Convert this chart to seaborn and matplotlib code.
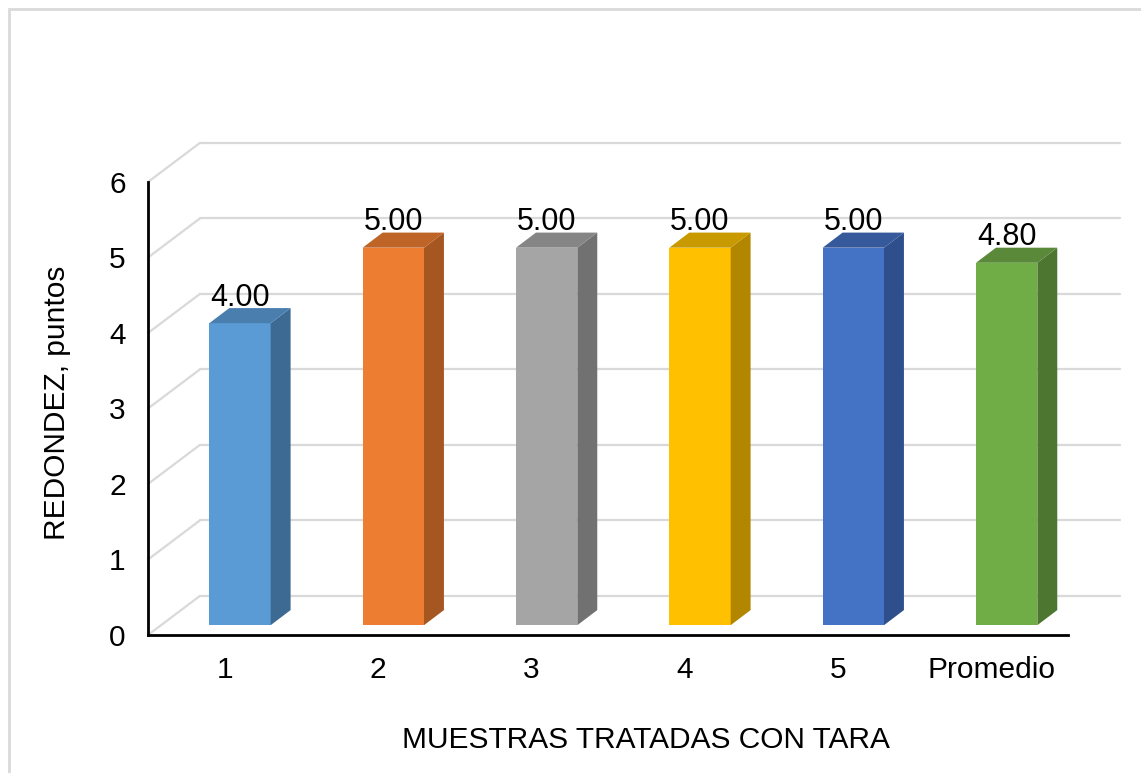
"""
Gráfico de barras estilo 3D (Excel) - Redondez de muestras tratadas con tara
"""

import matplotlib
matplotlib.use("Agg")
import matplotlib.pyplot as plt
from matplotlib.patches import Polygon, Rectangle
import pandas as pd
import seaborn as sns

# datos
muestras = ["1", "2", "3", "4", "5", "Promedio"]
redondez = [4.00, 5.00, 5.00, 5.00, 5.00, 4.80]
etiquetas_y = [0, 1, 2, 3, 4, 5, 6]

# colores: cara frontal, lateral, superior
color_frente = ["#5B9BD5", "#ED7D31", "#A5A5A5", "#FFC000", "#4472C4", "#70AD47"]
color_lado = ["#3D6A92", "#A65620", "#717171", "#B38600", "#2E4F8C", "#4D7630"]
color_tope = ["#4A7EAE", "#BF6427", "#858585", "#C89A00", "#36599C", "#5A8A39"]

df = pd.DataFrame({"muestra": muestras, "redondez": redondez})

sns.set_theme(style="white")
plt.rcParams["font.family"] = ["Liberation Sans", "DejaVu Sans"]

W, H = 1141, 773
fig = plt.figure(figsize=(W / 100, H / 100), dpi=100)

# ejes principales (pixeles: x 148-1068, y 182-635)
ax = fig.add_axes([148 / W, 1 - 635 / H, (1068 - 148) / W, (635 - 182) / H])

# desplazamientos (unidades de datos) para simular la perspectiva
WALL_DX, WALL_DY = 0.34, 0.52    # pared del fondo
BAR_DX, BAR_DY = 0.10, 0.13      # plano frontal de las barras
DEPTH_DX, DEPTH_DY = 0.13, 0.20  # profundidad de cada barra

# rejilla en la pared del fondo
for v in etiquetas_y:
    ax.plot([-0.5, -0.5 + WALL_DX], [v, v + WALL_DY], color="#D9D9D9",
            lw=1.6, clip_on=False, zorder=0)
    ax.plot([-0.5 + WALL_DX, 5.5 + WALL_DX], [v + WALL_DY, v + WALL_DY],
            color="#D9D9D9", lw=1.6, clip_on=False, zorder=0)

sns.barplot(data=df, x="muestra", y="redondez", hue="muestra",
            palette=color_frente, width=0.4, legend=False, ax=ax,
            saturation=1, zorder=3)

for i, p in enumerate(ax.patches):
    x0 = p.get_x() + BAR_DX
    w = p.get_width()
    h = p.get_height()
    y0 = BAR_DY
    p.set_x(x0)
    p.set_y(y0)
    p.set_linewidth(0)
    p.set_clip_on(False)
    x1 = x0 + w
    lado = Polygon([(x1, y0), (x1 + DEPTH_DX, y0 + DEPTH_DY),
                    (x1 + DEPTH_DX, y0 + h + DEPTH_DY), (x1, y0 + h)],
                   closed=True, facecolor=color_lado[i], lw=0, zorder=3,
                   clip_on=False)
    tope = Polygon([(x0, y0 + h), (x0 + DEPTH_DX, y0 + h + DEPTH_DY),
                    (x1 + DEPTH_DX, y0 + h + DEPTH_DY), (x1, y0 + h)],
                   closed=True, facecolor=color_tope[i], lw=0, zorder=3,
                   clip_on=False)
    ax.add_patch(lado)
    ax.add_patch(tope)
    ax.text(x0 + w / 2, y0 + h + DEPTH_DY + 0.03, f"{redondez[i]:.2f}",
            ha="center", va="baseline", fontsize=22, color="black", zorder=4)

ax.set_xlim(-0.5, 5.5)
ax.set_ylim(0, 6)
ax.set_yticks(etiquetas_y)
ax.set_yticklabels([str(v) for v in etiquetas_y])
ax.tick_params(axis="both", length=0, labelsize=21.5, colors="black")
ax.tick_params(axis="x", pad=15)
ax.tick_params(axis="y", pad=16)
ax.set_facecolor("none")
ax.grid(False)

for lado_eje in ["top", "right"]:
    ax.spines[lado_eje].set_visible(False)
for lado_eje in ["left", "bottom"]:
    ax.spines[lado_eje].set_color("black")
    ax.spines[lado_eje].set_linewidth(2)

ax.set_xlabel("")
ax.set_ylabel("")
fig.text(646 / W, 1 - 740 / H, "MUESTRAS TRATADAS CON TARA",
         ha="center", va="center", fontsize=21.5, color="black")
fig.text(57 / W, 1 - 403 / H, "REDONDEZ, puntos", rotation=90,
         ha="center", va="center", fontsize=21.5, color="black")

# borde del área del gráfico
fig.patches.append(Rectangle((9 / W, -0.05), 1.1, 1 - 9 / H + 0.05,
                             transform=fig.transFigure, fill=False,
                             edgecolor="#D9D9D9", lw=2.0))

fig.savefig("out.png", dpi=100)
